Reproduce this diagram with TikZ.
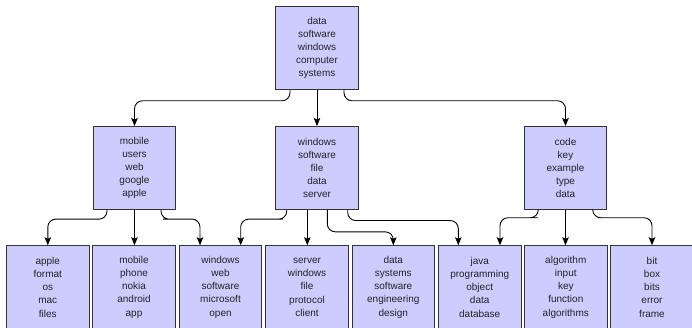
\documentclass[tikz,border=0pt]{standalone}
\usepackage{fontspec}
\setmainfont{Liberation Sans}
\usetikzlibrary{arrows.meta,calc}
\definecolor{boxfill}{HTML}{CCCCFF}
\definecolor{boxline}{HTML}{333333}
\definecolor{txt}{HTML}{222222}
\tikzset{
  topic/.style={draw=boxline, fill=boxfill, line width=0.9pt, minimum width=82.5pt,
    minimum height=83pt, inner sep=0pt, align=center, text=txt,
    font=\fontsize{10pt}{13.2pt}\selectfont},
  edge/.style={draw=black, line width=0.9pt, rounded corners=8pt,
    -{Stealth[length=8pt,width=6.5pt,inset=1.5pt]}}
}
\begin{document}
\begin{tikzpicture}[x=1pt,y=-1pt]
\useasboundingbox (0,0) rectangle (692,327);
% top
\node[topic] (top) at (317,48) {data\\software\\windows\\computer\\systems};
% middle
\node[topic] (ml) at (134.5,168) {mobile\\users\\web\\google\\apple};
\node[topic] (mc) at (317,168) {windows\\software\\file\\data\\server};
\node[topic] (mr) at (565.5,168) {code\\key\\example\\type\\data};
% bottom
\node[topic] (b1) at (47.8,287.2) {apple\\format\\os\\mac\\files};
\node[topic] (b2) at (134,287.2) {mobile\\phone\\nokia\\android\\app};
\node[topic] (b3) at (220.5,287.2) {windows\\web\\software\\microsoft\\open};
\node[topic] (b4) at (307,287.2) {server\\windows\\file\\protocol\\client};
\node[topic] (b5) at (393.3,287.2) {data\\systems\\software\\engineering\\design};
\node[topic] (b6) at (479.7,287.2) {java\\programming\\object\\data\\database};
\node[topic] (b7) at (565.8,287.2) {algorithm\\input\\key\\function\\algorithms};
\node[topic] (b8) at (652,287.2) {bit\\box\\bits\\error\\frame};

% top level edges
\coordinate (t1) at ([xshift=-27pt]top.south);
\coordinate (t3) at ([xshift=27pt]top.south);
\draw[edge] (t1) |- ($(t1)!0.3!(ml.north)$) -| (ml.north);
\draw[edge] (top.south) -- (mc.north);
\draw[edge] (t3) |- ($(t3)!0.3!(mr.north)$) -| (mr.north);

% middle-left edges
\coordinate (l1) at ([xshift=-27.5pt]ml.south);
\coordinate (l3) at ([xshift=26.5pt]ml.south);
\coordinate (b3a) at ([xshift=-20.5pt]b3.north);
\draw[edge] (l1) |- ($(l1)!0.26!(b1.north)$) -| (b1.north);
\draw[edge] (ml.south) -- (ml.south |- b2.north);
\draw[edge] (l3) |- ($(l3)!0.26!(b3a)$) -| (b3a);

% middle-center edges
\coordinate (c1) at ([xshift=-30.3pt]mc.south);
\coordinate (c2) at ([xshift=-9.7pt]mc.south);
\coordinate (c3) at ([xshift=10.3pt]mc.south);
\coordinate (c4) at ([xshift=30.7pt]mc.south);
\coordinate (b3b) at ([xshift=20.2pt]b3.north);
\coordinate (b6a) at ([xshift=-21.4pt]b6.north);
\draw[edge] (c1) |- ($(c1)!0.26!(b3b)$) -| (b3b);
\draw[edge] (c2) -- (c2 |- b4.north);
\draw[edge] (c3) |- ($(c3)!0.62!(b5.north)$) -| (b5.north);
\draw[edge] (c4) |- ($(c4)!0.3!(b6a)$) -| (b6a);

% middle-right edges
\coordinate (r1) at ([xshift=-27.2pt]mr.south);
\coordinate (r3) at ([xshift=27.2pt]mr.south);
\coordinate (b6b) at ([xshift=20.3pt]b6.north);
\draw[edge] (r1) |- ($(r1)!0.22!(b6b)$) -| (b6b);
\draw[edge] (mr.south) -- (mr.south |- b7.north);
\draw[edge] (r3) |- ($(r3)!0.22!(b8.north)$) -| (b8.north);
\end{tikzpicture}
\end{document}
